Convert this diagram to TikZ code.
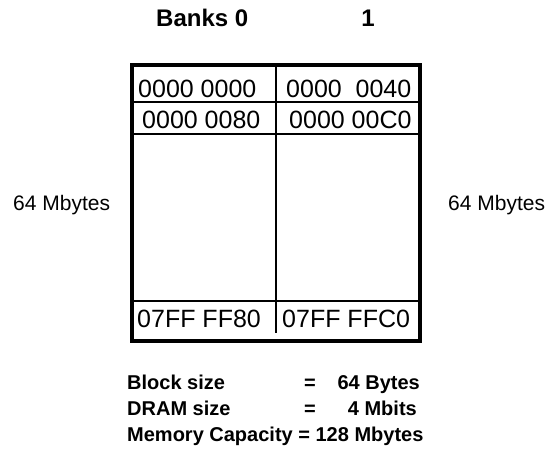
\documentclass[tikz,border=0pt]{standalone}
\usepackage{fontspec}
\setmainfont{Liberation Sans}
\begin{document}
\begin{tikzpicture}[x=1pt,y=-1pt,
  cell/.style={inner sep=0pt,anchor=base west,font=\fontsize{25}{28}\selectfont},
  side/.style={inner sep=0pt,anchor=base west,font=\fontsize{21}{25}\selectfont},
  head/.style={inner sep=0pt,font=\fontsize{24}{28}\selectfont\bfseries},
  info/.style={inner sep=0pt,font=\fontsize{20}{24}\selectfont\bfseries},
  frame/.style={line width=4pt},
  grid/.style={line width=1.2pt}]
\useasboundingbox (0,0) rectangle (548,453);
% headings
\node[head,anchor=base west] (banks) at (156,26) {Banks 0};
\node[head,anchor=base] (one) at (368,26) {1};
% table frame and grid
\coordinate (tl) at (132,65);
\coordinate (br) at (420,341);
\draw[grid] (132,102) -- (420,102);
\draw[grid] (132,134) -- (420,134);
\draw[grid] (132,301) -- (420,301);
\draw[grid] (276,65) -- (276,333);
\draw[frame] (tl) rectangle (br);
% cells
\node[cell] (c00) at (138,97) {0000 0000};
\node[cell] (c01) at (286,97) {0000\ \ 0040};
\node[cell] (c10) at (142,128) {0000 0080};
\node[cell] (c11) at (289,128) {0000 00C0};
\node[cell] (c20) at (137,327) {07FF FF80};
\node[cell] (c21) at (282,327) {07FF FFC0};
% side labels
\node[side] (left) at (13,210) {64 Mbytes};
\node[side] (right) at (448,210) {64 Mbytes};
% info
\node[info,anchor=base west] (bl) at (127,389) {Block size};
\node[info,anchor=base] (bleq) at (310,389) {=};
\node[info,anchor=base east] (blv) at (420,389) {64 Bytes};
\node[info,anchor=base west] (dr) at (127,415) {DRAM size};
\node[info,anchor=base] (dreq) at (310,415) {=};
\node[info,anchor=base east] (drv) at (417,415) {4 Mbits};
\node[info,anchor=base west] (mc) at (127,441) {Memory Capacity = 128 Mbytes};
\end{tikzpicture}
\end{document}
